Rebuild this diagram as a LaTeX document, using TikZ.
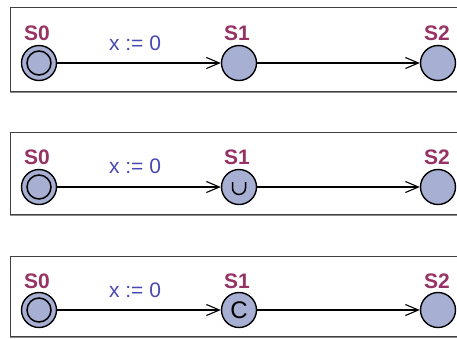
\documentclass[tikz,border=0pt]{standalone}
\usepackage{fontspec}
\setmainfont{Liberation Sans}
\usetikzlibrary{arrows.meta}
\definecolor{locfill}{RGB}{167,176,210}
\definecolor{locname}{RGB}{150,50,100}
\definecolor{assign}{RGB}{72,72,180}
\tikzset{
  loc/.style={circle, draw=black, line width=1.4pt, fill=locfill, minimum size=35pt, inner sep=0pt},
  lname/.style={text=locname, font=\fontsize{21}{21}\selectfont\bfseries, inner sep=0pt},
  asg/.style={text=assign, font=\fontsize{21}{21}\selectfont, inner sep=0pt},
  trans/.style={draw=black, line width=1.2pt, -{Straight Barb[length=13pt,width=11pt,line width=1.1pt]}},
  panel/.style={draw=black!75, line width=1pt},
  mark glyph/.style={line width=1.5pt},
}
\begin{document}
\begin{tikzpicture}[x=1pt,y=-1pt]
\useasboundingbox (0,0) rectangle (457,338);
% panels
\foreach \t/\b in {7/91, 132/214, 256/336}{
  \draw[black!45, line width=1.6pt] (10,\b+0.8) -- (470,\b+0.8);
  \draw[panel] (470,\t) -- (10,\t) -- (10,\b) -- (470,\b);
}
% panel 1
\node[loc] (s0a) at (39,63) {};
\draw[mark glyph] (s0a.center) circle (12pt);
\node[loc] (s1a) at (239,63) {};
\node[loc] (s2a) at (438,63) {};
\node[lname] (n0a) at (37,33) {S0};
\node[lname] (n1a) at (237,33) {S1};
\node[lname] (n2a) at (437,33) {S2};
\draw[trans] (s0a) -- (s1a);
\draw[trans] (s1a) -- (s2a);
\node[asg] (xa) at (135,43) {x := 0};
% panel 2
\node[loc] (s0b) at (39,187) {};
\draw[mark glyph] (s0b.center) circle (12pt);
\node[loc] (s1b) at (239,187) {};
\node[loc] (s2b) at (438,187) {};
\draw[mark glyph] ([shift={(-6.5,-5)}]s1b.center) -- ++(0,6) arc[start angle=180, end angle=360, radius=6.5pt] -- ++(0,-6);
\node[lname] (n0b) at (37,157) {S0};
\node[lname] (n1b) at (237,157) {S1};
\node[lname] (n2b) at (437,157) {S2};
\draw[trans] (s0b) -- (s1b);
\draw[trans] (s1b) -- (s2b);
\node[asg] (xb) at (135,166) {x := 0};
% panel 3
\node[loc] (s0c) at (39,310) {};
\draw[mark glyph] (s0c.center) circle (12pt);
\node[loc, font=\fontsize{24}{24}\selectfont] (s1c) at (239,310) {C};
\node[loc] (s2c) at (438,310) {};
\node[lname] (n0c) at (37,281) {S0};
\node[lname] (n1c) at (237,281) {S1};
\node[lname] (n2c) at (437,281) {S2};
\draw[trans] (s0c) -- (s1c);
\draw[trans] (s1c) -- (s2c);
\node[asg] (xc) at (135,290) {x := 0};
\end{tikzpicture}
\end{document}
